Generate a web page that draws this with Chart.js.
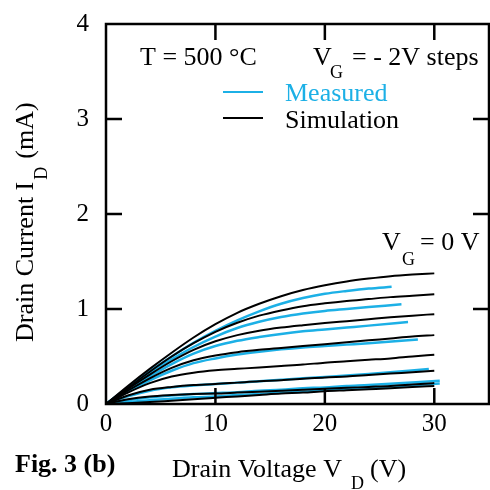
<!DOCTYPE html>
<html>
<head>
<meta charset="utf-8">
<script src="https://cdn.jsdelivr.net/npm/chart.js@4.4.0/dist/chart.umd.min.js"></script>
<style>
  html, body { margin: 0; padding: 0; background: #fff; }
  #wrap { width: 490px; height: 490px; }
</style>
</head>
<body>
<div id="wrap"><canvas id="ivChart"></canvas></div>
<script>
// drain voltage grid (V)
const vdSim = [0, 2, 4, 6, 8, 10, 12, 14, 16, 18, 20, 22, 24, 26, 28, 30];
const vdMeas = [0, 2, 4, 6, 8, 10, 12, 14, 16, 18, 20, 22, 24];

// simulation, drain current (mA), VG = 0 .. -14 V
const sim0 = [0, 0.19, 0.37, 0.54, 0.70, 0.84, 0.96, 1.055, 1.135, 1.20, 1.25, 1.29, 1.32, 1.345, 1.362, 1.375];
const sim2 = [0, 0.17, 0.34, 0.50, 0.64, 0.76, 0.855, 0.93, 0.985, 1.03, 1.06, 1.085, 1.105, 1.125, 1.14, 1.155];
const sim4 = [0, 0.16, 0.31, 0.45, 0.57, 0.66, 0.725, 0.772, 0.805, 0.83, 0.852, 0.872, 0.892, 0.912, 0.93, 0.946];
const sim6 = [0, 0.14, 0.27, 0.38, 0.46, 0.51, 0.545, 0.57, 0.59, 0.61, 0.63, 0.65, 0.67, 0.69, 0.71, 0.725];
const sim8 = [0, 0.12, 0.22, 0.29, 0.33, 0.355, 0.37, 0.385, 0.40, 0.415, 0.435, 0.45, 0.465, 0.48, 0.50, 0.518];
const sim10 = [0, 0.09, 0.15, 0.18, 0.20, 0.21, 0.225, 0.24, 0.25, 0.265, 0.28, 0.29, 0.305, 0.32, 0.335, 0.35];
const sim12 = [0, 0.05, 0.08, 0.095, 0.105, 0.11, 0.12, 0.13, 0.14, 0.15, 0.16, 0.17, 0.18, 0.19, 0.205, 0.22];
const sim14 = [0, 0.008, 0.02, 0.035, 0.05, 0.065, 0.08, 0.095, 0.11, 0.12, 0.135, 0.145, 0.155, 0.165, 0.178, 0.19];

// measured, drain current (mA) on vdMeas, then one last point at measEndV
const meas0 = [0, 0.175, 0.345, 0.50, 0.645, 0.77, 0.88, 0.975, 1.055, 1.115, 1.16, 1.19, 1.215];
const meas2 = [0, 0.165, 0.325, 0.47, 0.60, 0.71, 0.80, 0.865, 0.915, 0.952, 0.98, 1.0, 1.02];
const meas4 = [0, 0.15, 0.29, 0.42, 0.53, 0.61, 0.665, 0.705, 0.738, 0.765, 0.785, 0.805, 0.825];
const meas6 = [0, 0.13, 0.25, 0.35, 0.43, 0.48, 0.52, 0.55, 0.575, 0.595, 0.61, 0.625, 0.64];
const meas10 = [0, 0.08, 0.14, 0.175, 0.195, 0.21, 0.225, 0.24, 0.255, 0.27, 0.285, 0.30, 0.315];
const meas12 = [0, 0.04, 0.07, 0.09, 0.105, 0.115, 0.125, 0.14, 0.15, 0.165, 0.175, 0.19, 0.2];
const meas14 = [0, 0.02, 0.04, 0.055, 0.07, 0.08, 0.095, 0.105, 0.12, 0.13, 0.145, 0.155, 0.17];
const measEndV = [26.1, 27.0, 27.6, 28.5, 29.5, 30.5, 30.5];
const measEndI = [1.233, 1.05, 0.863, 0.68, 0.368, 0.245, 0.215];

const xTicks = [10, 20, 30];
const yTicks = [1, 2, 3];

const BLUE = '#1cb0e6';
const SERIF = '"Liberation Serif", "Times New Roman", serif';

const toPts = (xs, ys) => ys.map((v, i) => ({ x: xs[i], y: v }));

const simSets = [sim0, sim2, sim4, sim6, sim8, sim10, sim12, sim14].map(ys => ({
  data: toPts(vdSim, ys),
  borderColor: '#000',
  borderWidth: 2,
  pointRadius: 0,
  fill: false,
  cubicInterpolationMode: 'monotone'
}));

const measSets = [meas0, meas2, meas4, meas6, meas10, meas12, meas14].map((ys, k) => ({
  data: toPts(vdMeas, ys).concat([{ x: measEndV[k], y: measEndI[k] }]),
  borderColor: BLUE,
  borderWidth: 2.5,
  pointRadius: 0,
  fill: false,
  cubicInterpolationMode: 'monotone'
}));

// box + inward ticks on all four sides
const framePlugin = {
  id: 'frame',
  afterDatasetsDraw(chart) {
    const { ctx, chartArea: a, scales: { x, y } } = chart;
    ctx.save();
    ctx.strokeStyle = '#000';
    ctx.lineWidth = 2.5;
    ctx.strokeRect(a.left, a.top, a.right - a.left, a.bottom - a.top);
    ctx.beginPath();
    xTicks.forEach(v => {
      const px = x.getPixelForValue(v);
      ctx.moveTo(px, a.bottom); ctx.lineTo(px, a.bottom - 16);
      ctx.moveTo(px, a.top); ctx.lineTo(px, a.top + 16);
    });
    yTicks.forEach(v => {
      const py = y.getPixelForValue(v);
      ctx.moveTo(a.left, py); ctx.lineTo(a.left + 16, py);
      ctx.moveTo(a.right, py); ctx.lineTo(a.right - 16, py);
    });
    ctx.stroke();
    ctx.restore();
  }
};

// annotations, legend and axis titles
const textPlugin = {
  id: 'texts',
  afterDraw(chart) {
    const ctx = chart.ctx;
    const big = '26px ' + SERIF;
    const sub = '18px ' + SERIF;
    ctx.save();
    ctx.textBaseline = 'alphabetic';
    ctx.fillStyle = '#000';

    ctx.font = big;
    ctx.fillText('T = 500 \u00b0C', 140, 65);
    ctx.fillText('V', 313, 65);
    ctx.fillText('= - 2V steps', 352, 65);
    ctx.font = sub;
    ctx.fillText('G', 330, 78);

    // legend
    ctx.lineWidth = 2;
    ctx.strokeStyle = BLUE;
    ctx.beginPath(); ctx.moveTo(223, 92); ctx.lineTo(263, 92); ctx.stroke();
    ctx.strokeStyle = '#000';
    ctx.beginPath(); ctx.moveTo(223, 118); ctx.lineTo(263, 118); ctx.stroke();
    ctx.font = big;
    ctx.fillStyle = BLUE;
    ctx.fillText('Measured', 285, 101);
    ctx.fillStyle = '#000';
    ctx.fillText('Simulation', 285, 128);

    // VG = 0 V label
    ctx.fillText('V', 382, 250);
    ctx.fillText('= 0 V', 420, 250);
    ctx.font = sub;
    ctx.fillText('G', 402, 265);

    // x title + figure tag
    ctx.font = 'bold 26px ' + SERIF;
    ctx.fillText('Fig. 3 (b)', 15, 472);
    ctx.font = big;
    ctx.fillText('Drain Voltage V', 172, 477);
    ctx.fillText('(V)', 370, 477);
    ctx.font = sub;
    ctx.fillText('D', 351, 489);

    // y title, rotated
    ctx.translate(33, 342);
    ctx.rotate(-Math.PI / 2);
    ctx.font = big;
    const main = 'Drain Current I';
    const w = ctx.measureText(main).width;
    ctx.fillText(main, 0, 0);
    ctx.font = sub;
    ctx.fillText('D', w + 2, 14);
    const wd = ctx.measureText('D').width;
    ctx.font = big;
    ctx.fillText('(mA)', w + wd + 10, 0);
    ctx.restore();
  }
};

new Chart(document.getElementById('ivChart').getContext('2d'), {
  type: 'line',
  data: { datasets: simSets.concat(measSets) },
  options: {
    responsive: true,
    maintainAspectRatio: false,
    animation: false,
    layout: { padding: { top: 19, right: 1, left: 0, bottom: 0 } },
    plugins: { legend: { display: false }, tooltip: { enabled: false } },
    scales: {
      x: {
        type: 'linear',
        min: 0,
        max: 35,
        grid: { display: false },
        border: { display: false },
        ticks: {
          stepSize: 10,
          includeBounds: false,
          color: '#000',
          padding: -3,
          maxRotation: 0,
          font: { family: SERIF, size: 25 }
        },
        afterFit: s => { s.height = 86; }
      },
      y: {
        min: 0,
        max: 4,
        grid: { display: false },
        border: { display: false },
        ticks: {
          stepSize: 1,
          color: '#000',
          padding: 9,
          font: { family: SERIF, size: 25 }
        },
        afterFit: s => { s.width = 106; }
      }
    }
  },
  plugins: [framePlugin, textPlugin]
});
</script>
</body>
</html>
